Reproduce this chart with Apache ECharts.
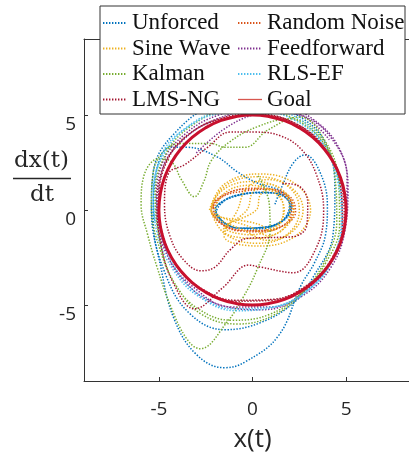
<!DOCTYPE html>
<html><head><meta charset="utf-8">
<script src="https://cdn.jsdelivr.net/npm/echarts@6/dist/echarts.min.js"></script>
<style>html,body{margin:0;padding:0;background:#fff}#c{width:409px;height:455px}</style>
</head><body><div id="c"></div>
<script>
const seriesNames = ['Unforced','Random Noise','Sine Wave','Feedforward','Kalman','RLS-EF','LMS-NG','Goal'];
const legendCol1 = ['Unforced','Sine Wave','Kalman','LMS-NG'];
const legendCol2 = ['Random Noise','Feedforward','RLS-EF','Goal'];
const xTicks = [-5, 0, 5];
const yTicks = [-5, 0, 5];

const unforced = [[1.2,0.3],[1.6,1.3],[2.2,2.5],[2.8,2.9],[3.6,2.0],[4.0,0.2],[3.9,-1.3],[3.3,-2.8],[2.6,-3.95],[1.4,-6.6],[-0.4,-8.0],[-1.5,-8.3],[-3.0,-7.6],[-4.2,-5.7],[-4.9,-3.0],[-5.4,0.0],[-5.3,2.0],[-4.2,4.0],[-2.0,5.4],[0.5,5.5],[2.7,4.8],[4.0,3.3],[4.4,1.0],[4.3,-1.3],[3.2,-3.6],[2.3,-4.8],[0.5,-5.9],[-1.5,-6.3],[-3.3,-5.5],[-4.6,-3.5],[-5.3,-0.5],[-5.1,2.2],[-4.4,3.3],[-3.5,3.3],[-1.9,2.8],[-0.8,2.0],[0.3,1.4],[1.5,1.0],[2.1,0.2],[1.6,-0.6],[0.2,-1.0],[-1.2,-0.85],[-1.95,-0.2],[-1.6,0.4],[-0.8,0.75],[0.3,0.9],[1.3,0.88],[1.9,0.5],[2.0,0.1],[1.6,-0.55],[0.6,-0.9],[-0.6,-0.97],[-1.5,-0.65],[-2.0,0.0],[-1.5,0.5],[-0.6,0.82],[0.4,0.92],[1.4,0.86],[1.95,0.45],[2.02,0.05],[1.55,-0.6],[0.5,-0.93],[-0.7,-0.95],[-1.6,-0.6],[-1.98,0.02],[-1.45,0.55],[-0.5,0.85],[0.5,0.93],[1.45,0.82],[2.0,0.2],[1.6,-0.57],[0.55,-0.92],[-0.65,-0.96],[-1.55,-0.62],[-1.99,0.01],[-1.48,0.52],[-0.55,0.84],[0.45,0.92],[1.42,0.84],[1.98,0.3],[1.58,-0.58],[0.52,-0.92],[-0.68,-0.96],[-1.58,-0.61],[-1.98,0.0]];
const randomNoise = [[-2.1,0.1],[-1.5,0.8],[-0.3,1.1],[1.0,1.05],[1.9,0.6],[2.2,0.0],[1.8,-0.7],[0.6,-1.1],[-0.8,-1.05],[-1.8,-0.6],[-2.2,0.0],[-1.6,0.7],[-0.4,1.0],[0.9,1.1],[2.0,0.7],[2.3,-0.1],[1.7,-0.8],[0.4,-1.15],[-1.0,-1.0],[-2.0,-0.4],[-2.1,0.2],[-1.3,0.9],[0.2,1.15],[1.5,0.95],[2.1,0.3],[1.9,-0.6],[0.8,-1.05],[-0.6,-1.1],[-1.7,-0.7],[-2.1,0.0]];
const sineWave = [[-2.3,0],[-1.52,1.35],[0.4,1.9],[2.32,1.35],[3.1,0],[2.32,-1.35],[0.4,-1.9],[-1.52,-1.35],[-0.8,0],[-0.32,1.14],[0.85,1.6],[2.02,1.14],[2.5,0],[2.02,-1.14],[0.85,-1.6],[-0.32,-1.14],[-2.2,0],[-1.56,1.07],[0,1.5],[1.56,1.07],[2.2,0],[1.56,-1.07],[0,-1.5],[-1.56,-1.07],[-0.3,0],[0.03,0.96],[0.85,1.35],[1.67,0.96],[2.0,0],[1.67,-0.96],[0.85,-1.35],[0.03,-0.96],[-2.0,0],[-1.46,0.92],[-0.15,1.3],[1.16,0.92],[1.7,0],[1.16,-0.92],[-0.15,-1.3],[-1.46,-0.92],[0.2,0],[0.41,0.78],[0.93,1.1],[1.45,0.78],[1.65,0],[1.45,-0.78],[0.93,-1.1],[0.41,-0.78],[-2.2,0],[-1.49,1.24],[0.25,1.75],[1.99,1.24],[2.7,0],[1.99,-1.24],[0.25,-1.75],[-1.49,-1.24],[-2.25,0]];
const feedforward = [[-3.0,3.0],[-1.6,4.2],[0.0,5.0],[1.8,5.3],[3.2,4.8],[4.6,3.3],[5.1,1.2],[4.95,-1.0],[4.2,-3.0],[2.7,-4.5],[0.5,-5.25],[-1.7,-5.0],[-3.5,-3.9],[-4.7,-2.0],[-5.15,0.3],[-4.8,2.5],[-3.6,4.0],[-1.8,5.0],[0.4,5.35],[2.6,5.0],[4.2,3.8],[5.05,1.7],[5.0,-0.5],[4.3,-2.6],[2.9,-4.2],[1.0,-5.1],[-1.2,-5.1],[-3.1,-4.1],[-4.5,-2.5],[-5.05,-0.3],[-4.85,2.0],[-3.8,3.6],[-2.0,4.75],[0.2,5.2],[2.5,5.0],[4.1,3.7]];
const kalman = [[0.3,1.8],[0.9,0.3],[0.94,-1.05],[0.23,-3.16],[-0.5,-4.6],[-1.36,-5.9],[-2.8,-7.3],[-3.5,-6.8],[-4.4,-5.0],[-5.1,-3.0],[-5.6,-1.3],[-5.95,0.3],[-5.8,1.8],[-5.0,2.7],[-4.3,2.5],[-3.8,1.6],[-3.1,0.7],[-2.6,1.5],[-2.2,2.6],[-1.2,3.6],[0.3,4.4],[2.0,4.8],[3.6,3.9],[4.4,1.8],[4.5,-0.6],[3.9,-2.6],[2.8,-4.2],[1.2,-5.5],[-0.8,-6.0],[-2.7,-5.5],[-4.0,-4.1],[-4.9,-2.2],[-5.4,0.2],[-5.3,2.0],[-4.5,3.3],[-3.6,3.5],[-2.2,3.5],[-1.5,3.3],[-0.4,3.3],[0.8,4.2],[2.5,4.9],[3.9,3.6],[4.6,1.5],[4.65,-0.8],[3.9,-2.8],[2.7,-4.3],[0.9,-5.5],[-1.1,-5.8],[-2.9,-5.2],[-4.2,-3.8],[-4.95,-1.6],[-5.2,0.9],[-4.6,3.0],[-3.3,4.4],[-1.4,5.2],[0.6,5.2],[2.6,4.6],[4.0,3.2],[4.7,1.2]];
const rlsEf = [[-5.2,-0.6],[-5.3,0.6],[-4.8,3.0],[-3.6,4.3],[-1.8,5.2],[0.3,5.4],[2.3,4.9],[3.7,3.6],[4.5,1.7],[4.75,-0.4],[4.3,-2.5],[3.1,-4.1],[1.2,-5.1],[-0.9,-5.3],[-2.8,-4.6],[-4.2,-3.2],[-5.1,-1.2],[-5.3,1.0],[-4.7,3.0],[-3.4,4.4],[-1.6,5.1],[0.4,5.2],[2.3,4.7],[3.7,3.5],[4.6,1.6],[4.8,-0.5],[4.3,-2.6],[3.0,-4.2],[1.1,-5.1],[-1.0,-5.2],[-2.8,-4.5],[-4.1,-3.1],[-4.9,-1.2],[-5.15,0.8]];
const lmsNg = [[1.6,1.4],[2.4,1.3],[2.95,0.4],[2.9,-0.8],[2.2,-1.4],[1.0,-1.45],[-0.3,-1.5],[-1.2,-2.1],[-2.0,-3.0],[-2.75,-3.2],[-3.7,-2.6],[-4.4,-1.4],[-4.7,0.3],[-4.5,1.9],[-3.6,2.4],[-2.4,3.3],[-1.2,4.1],[0.2,4.1],[1.5,3.9],[2.6,3.2],[3.4,1.9],[3.8,0.0],[3.4,-2.0],[2.2,-3.3],[0.4,-3.0],[-0.2,-2.9],[-1.6,-4.1],[-3.1,-5.2],[-4.2,-3.9],[-4.9,-1.8],[-5.1,0.5],[-4.6,2.6],[-3.4,4.0],[-1.6,4.8],[0.4,5.0],[2.4,4.5],[3.9,3.2],[4.7,1.3],[4.8,-0.8],[4.2,-2.6],[2.9,-4.0],[1.0,-4.75],[-0.9,-4.8],[-2.7,-4.2],[-4.0,-3.0],[-4.8,-1.3],[-5.0,0.6],[-4.6,2.5],[-3.5,3.9],[-1.8,4.8],[0.2,5.05],[2.2,4.6],[3.8,3.3],[4.75,1.4],[4.9,-0.6],[4.3,-2.5],[3.0,-3.9],[1.1,-4.7],[-0.9,-4.75],[-2.7,-4.15],[-4.1,-2.9],[-4.85,-1.1]];
const goal = [[5,0],[4.92,0.87],[4.70,1.71],[4.33,2.5],[3.83,3.21],[3.21,3.83],[2.5,4.33],[1.71,4.70],[0.87,4.92],[0,5],[-0.87,4.92],[-1.71,4.70],[-2.5,4.33],[-3.21,3.83],[-3.83,3.21],[-4.33,2.5],[-4.70,1.71],[-4.92,0.87],[-5,0],[-4.92,-0.87],[-4.70,-1.71],[-4.33,-2.5],[-3.83,-3.21],[-3.21,-3.83],[-2.5,-4.33],[-1.71,-4.70],[-0.87,-4.92],[0,-5],[0.87,-4.92],[1.71,-4.70],[2.5,-4.33],[3.21,-3.83],[3.83,-3.21],[4.33,-2.5],[4.70,-1.71],[4.92,-0.87],[5,0]];

const seriesData = [unforced, randomNoise, sineWave, feedforward, kalman, rlsEf, lmsNg, goal];
const colors = ['#0072BD','#D95319','#EDB120','#7E2F8E','#77AC30','#4DBEEE','#A2142F','#C8102E'];

const chart = echarts.init(document.getElementById('c'), null, {renderer:'canvas'});
const axisCol = '#333';
const tickFont = {fontFamily:'Open Sans', fontSize:19, color:'#262626'};
const series = seriesNames.map((n,i)=>{
  const isGoal = n === 'Goal';
  return {
    name:n, type:'line', data:seriesData[i], symbol:'none', smooth: isGoal ? 0.5 : 0.4,
    lineStyle: isGoal ? {color:colors[i], width:3, type:'solid'} : {color:colors[i], width:1.5, type:[1.4,1.6]},
    itemStyle:{color:colors[i]}, z: isGoal ? 5 : 2, silent:true
  };
});
const legendBase = {
  orient:'vertical', top:10.25, padding:0, itemGap:0, itemWidth:24, itemHeight:12,
  selectedMode:false, z:60,
  itemStyle:{opacity:0},
  textStyle:{fontFamily:'Liberation Serif', fontSize:23, lineHeight:25.5, color:'#111'}
};
chart.setOption({
  animation:false,
  backgroundColor:'#fff',
  grid:{left:84, width:337, top:39, bottom:74, containLabel:false, outerBoundsMode:'none'},
  legend:[
    Object.assign({}, legendBase, {left:102, data:legendCol1}),
    Object.assign({}, legendBase, {left:237, data:legendCol2.map(n => n === 'Goal' ? {name:n, lineStyle:{width:1.3, color:'#d8574f'}} : n)})
  ],
  xAxis:[
    {type:'value', min:-9, max:9, position:'bottom',
     name:'x(t)', nameLocation:'middle', nameGap:46,
     nameTextStyle:{fontFamily:'Open Sans', fontSize:26, color:'#262626', verticalAlign:'top'},
     axisLine:{show:true, onZero:false, lineStyle:{color:axisCol, width:1}},
     axisTick:{show:true, inside:true, length:4, customValues:xTicks, lineStyle:{color:axisCol}},
     axisLabel:Object.assign({show:true, margin:19, customValues:xTicks, verticalAlign:'top'}, tickFont),
     splitLine:{show:false}},
    {type:'value', min:-9, max:9, position:'top',
     axisLine:{show:true, onZero:false, lineStyle:{color:axisCol, width:1}},
     axisTick:{show:true, inside:true, length:4, customValues:xTicks, lineStyle:{color:axisCol}},
     axisLabel:{show:false}, splitLine:{show:false}}
  ],
  yAxis:[
    {type:'value', min:-9, max:9, position:'left',
     axisLine:{show:true, onZero:false, lineStyle:{color:axisCol, width:1}},
     axisTick:{show:true, inside:true, length:4, customValues:yTicks, lineStyle:{color:axisCol}},
     axisLabel:Object.assign({show:true, margin:8, customValues:yTicks, verticalAlign:'top'}, tickFont),
     splitLine:{show:false}}
  ],
  graphic:[
    {type:'rect', z:50, shape:{x:100, y:6, width:305, height:108}, style:{fill:'#fff', stroke:'#333', lineWidth:1}, silent:true},
    {type:'text', z:50, x:41.5, y:161, style:{text:'dx(t)', fontFamily:'DejaVu Serif', fontSize:23, fill:'#262626', align:'center', verticalAlign:'middle'}},
    {type:'line', z:50, shape:{x1:13, y1:178.5, x2:71, y2:178.5}, style:{stroke:'#262626', lineWidth:1.6}},
    {type:'text', z:50, x:42, y:195, style:{text:'dt', fontFamily:'DejaVu Serif', fontSize:23, fill:'#262626', align:'center', verticalAlign:'middle'}}
  ],
  series: series
});
</script></body></html>
